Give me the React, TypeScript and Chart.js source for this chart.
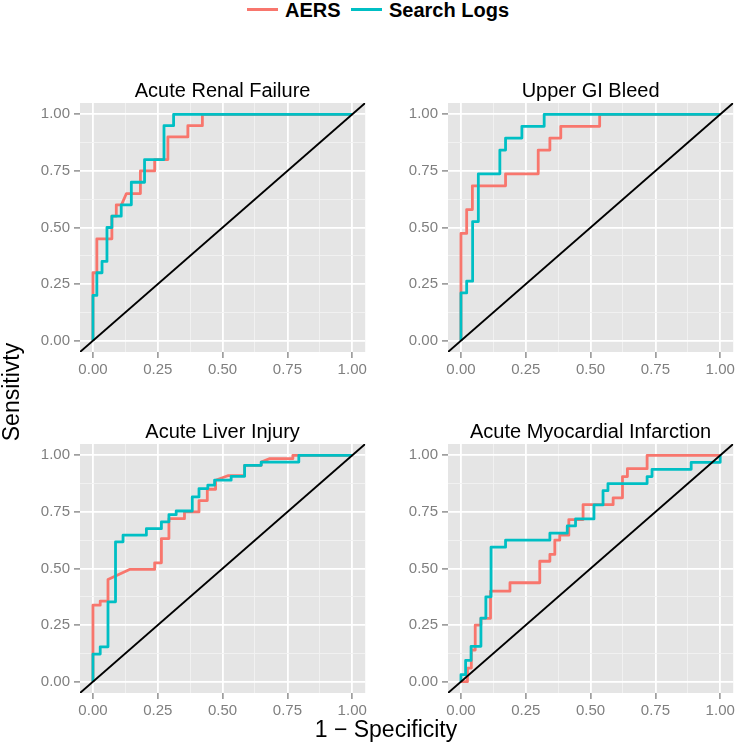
import React, { useEffect, useRef } from "react";
import { Chart, registerables } from "chart.js";

Chart.register(...registerables);

// ---------- data ----------
const seriesNames = ["AERS", "Search Logs"];
const seriesColors = ["#F8766D", "#00BFC4"];

const majorTicks = [0, 0.25, 0.5, 0.75, 1];
const minorTicks = [0.125, 0.375, 0.625, 0.875];
const tickLabels = ["0.00", "0.25", "0.50", "0.75", "1.00"];

const diagonal = [[-0.05, -0.05], [1.05, 1.05]];

const renalAers = [[0,0],[0,0.3],[0.015,0.3],[0.015,0.45],[0.073,0.45],[0.073,0.55],[0.09,0.55],[0.09,0.6],[0.11,0.6],[0.129,0.65],[0.183,0.65],[0.183,0.75],[0.238,0.75],[0.238,0.8],[0.289,0.8],[0.289,0.9],[0.366,0.9],[0.366,0.95],[0.422,0.95],[0.422,1],[1,1]];
const renalLogs = [[0,0],[0,0.2],[0.015,0.2],[0.015,0.3],[0.035,0.3],[0.035,0.35],[0.054,0.35],[0.054,0.5],[0.073,0.5],[0.073,0.55],[0.109,0.55],[0.109,0.6],[0.148,0.6],[0.148,0.7],[0.199,0.7],[0.199,0.8],[0.274,0.8],[0.274,0.95],[0.311,0.95],[0.311,1],[1,1]];

const giAers = [[0,0],[0,0.474],[0.022,0.474],[0.022,0.579],[0.044,0.579],[0.044,0.684],[0.172,0.684],[0.172,0.737],[0.298,0.737],[0.298,0.842],[0.343,0.842],[0.343,0.895],[0.385,0.895],[0.385,0.947],[0.535,0.947],[0.535,1],[1,1]];
const giLogs = [[0,0],[0,0.211],[0.022,0.211],[0.022,0.263],[0.045,0.263],[0.045,0.526],[0.067,0.526],[0.067,0.737],[0.15,0.737],[0.15,0.842],[0.172,0.842],[0.172,0.895],[0.235,0.895],[0.235,0.947],[0.321,0.947],[0.321,1],[1,1]];

const liverAers = [[0,0],[0,0.338],[0.028,0.338],[0.028,0.356],[0.058,0.356],[0.058,0.451],[0.141,0.496],[0.238,0.496],[0.238,0.525],[0.264,0.525],[0.264,0.632],[0.293,0.632],[0.293,0.72],[0.353,0.72],[0.353,0.75],[0.409,0.75],[0.409,0.8],[0.441,0.8],[0.441,0.85],[0.473,0.85],[0.473,0.89],[0.52,0.91],[0.585,0.91],[0.585,0.956],[0.649,0.956],[0.649,0.97],[0.68,0.985],[0.771,0.985],[0.771,1],[1,1]];
const liverLogs = [[0,0],[0,0.122],[0.028,0.122],[0.028,0.154],[0.058,0.154],[0.058,0.353],[0.087,0.353],[0.087,0.618],[0.116,0.618],[0.116,0.647],[0.206,0.647],[0.206,0.676],[0.264,0.676],[0.264,0.706],[0.293,0.706],[0.293,0.738],[0.321,0.738],[0.321,0.754],[0.383,0.754],[0.383,0.816],[0.409,0.816],[0.409,0.853],[0.443,0.853],[0.443,0.868],[0.469,0.868],[0.469,0.89],[0.533,0.89],[0.533,0.907],[0.585,0.907],[0.585,0.956],[0.649,0.956],[0.649,0.97],[0.794,0.97],[0.794,1],[1,1]];

const amiAers = [[0,0],[0.025,0],[0.025,0.06],[0.04,0.06],[0.04,0.14],[0.055,0.14],[0.055,0.25],[0.077,0.25],[0.077,0.28],[0.114,0.28],[0.114,0.4],[0.189,0.4],[0.189,0.437],[0.304,0.437],[0.304,0.532],[0.343,0.532],[0.343,0.562],[0.362,0.562],[0.362,0.625],[0.381,0.625],[0.381,0.647],[0.416,0.647],[0.416,0.716],[0.471,0.716],[0.471,0.782],[0.587,0.782],[0.587,0.812],[0.623,0.812],[0.623,0.906],[0.642,0.906],[0.642,0.941],[0.718,0.941],[0.718,1],[1,1]];
const amiLogs = [[0,0],[0,0.031],[0.018,0.031],[0.018,0.094],[0.039,0.094],[0.039,0.156],[0.077,0.156],[0.077,0.281],[0.096,0.281],[0.096,0.375],[0.116,0.375],[0.116,0.594],[0.172,0.594],[0.172,0.625],[0.343,0.625],[0.343,0.656],[0.41,0.656],[0.41,0.688],[0.442,0.688],[0.442,0.719],[0.513,0.719],[0.513,0.781],[0.548,0.781],[0.548,0.844],[0.567,0.844],[0.567,0.875],[0.718,0.875],[0.718,0.906],[0.737,0.906],[0.737,0.938],[0.888,0.938],[0.888,0.969],[1,0.969],[1,1]];

const panelTitles = ["Acute Renal Failure", "Upper GI Bleed", "Acute Liver Injury", "Acute Myocardial Infarction"];
const panelAers = [renalAers, giAers, liverAers, amiAers];
const panelLogs = [renalLogs, giLogs, liverLogs, amiLogs];

const xTitle = "1 \u2212 Specificity";
const yTitle = "Sensitivty";

// ---------- layout ----------
const FONT = '"Liberation Sans", Arial, Helvetica, sans-serif';
const Y_AXIS_W = 80;
const X_AXIS_H = 30;
const PAD_TOP = 34;
const PAD_RIGHT = 4;
const AREA_W = 286;
const AREA_H = 249;
const CANVAS_W = Y_AXIS_W + AREA_W + PAD_RIGHT;
const CANVAS_H = PAD_TOP + AREA_H + X_AXIS_H;
const panelPos = [
  { left: 0, top: 69 },
  { left: 368, top: 69 },
  { left: 0, top: 410 },
  { left: 368, top: 410 },
];

const allTicks = [...majorTicks, ...minorTicks].sort((a, b) => a - b);
const isMajor = (v: number) => majorTicks.some((m) => Math.abs(m - v) < 1e-9);
const toXY = (pts: number[][]) => pts.map(([x, y]) => ({ x, y }));

function axisOptions(isX: boolean) {
  return {
    type: "linear" as const,
    min: -0.05,
    max: 1.05,
    afterBuildTicks: (scale: any) => {
      scale.ticks = allTicks.map((v) => ({ value: v }));
    },
    afterFit: (scale: any) => {
      if (isX) scale.height = X_AXIS_H;
      else scale.width = Y_AXIS_W;
    },
    border: { display: false },
    grid: {
      drawOnChartArea: true,
      drawTicks: true,
      tickLength: 6,
      color: (ctx: any) => (ctx.tick && isMajor(ctx.tick.value) ? "#FFFFFF" : "#F2F2F2"),
      lineWidth: (ctx: any) => (ctx.tick && isMajor(ctx.tick.value) ? 1.8 : 0.9),
      tickColor: (ctx: any) => (ctx.tick && isMajor(ctx.tick.value) ? "#7F7F7F" : "rgba(0,0,0,0)"),
      tickWidth: 1.3,
    },
    ticks: {
      autoSkip: false,
      maxRotation: 0,
      minRotation: 0,
      padding: isX ? 3 : 4,
      color: "#7F7F7F",
      font: { family: FONT, size: 15 },
      callback: (value: any) => {
        const i = majorTicks.findIndex((m) => Math.abs(m - Number(value)) < 1e-9);
        return i >= 0 ? tickLabels[i] : "";
      },
    },
  };
}

function Panel({ index }: { index: number }) {
  const ref = useRef<HTMLCanvasElement>(null);
  useEffect(() => {
    if (!ref.current) return;
    const title = panelTitles[index];
    const panelPlugin = {
      id: "panelDeco",
      beforeDraw(chart: any) {
        const { ctx, chartArea } = chart;
        ctx.save();
        ctx.fillStyle = "#E5E5E5";
        ctx.fillRect(chartArea.left, chartArea.top, chartArea.right - chartArea.left, chartArea.bottom - chartArea.top);
        ctx.restore();
      },
      afterDraw(chart: any) {
        const { ctx, chartArea } = chart;
        ctx.save();
        ctx.font = `20px ${FONT}`;
        ctx.fillStyle = "#000000";
        ctx.textAlign = "center";
        ctx.textBaseline = "alphabetic";
        ctx.fillText(title, (chartArea.left + chartArea.right) / 2, chartArea.top - 6);
        ctx.restore();
      },
    };
    const chart = new Chart(ref.current, {
      type: "scatter",
      data: {
        datasets: [
          {
            label: "diagonal",
            data: toXY(diagonal),
            showLine: true,
            borderColor: "#000000",
            borderWidth: 1.9,
            pointRadius: 0,
            pointHoverRadius: 0,
            order: 0,
          },
          {
            label: seriesNames[1],
            data: toXY(panelLogs[index]),
            showLine: true,
            borderColor: seriesColors[1],
            borderWidth: 2.8,
            pointRadius: 0,
            pointHoverRadius: 0,
            borderJoinStyle: "round",
            order: 1,
          },
          {
            label: seriesNames[0],
            data: toXY(panelAers[index]),
            showLine: true,
            borderColor: seriesColors[0],
            borderWidth: 2.8,
            pointRadius: 0,
            pointHoverRadius: 0,
            borderJoinStyle: "round",
            order: 2,
          },
        ],
      },
      options: {
        responsive: false,
        maintainAspectRatio: false,
        animation: false,
        devicePixelRatio: 1,
        layout: { padding: { top: PAD_TOP, right: PAD_RIGHT, left: 0, bottom: 0 } },
        plugins: {
          legend: { display: false },
          tooltip: { enabled: false },
          title: { display: false },
        },
        events: [],
        scales: {
          x: axisOptions(true) as any,
          y: axisOptions(false) as any,
        },
      },
      plugins: [panelPlugin],
    });
    return () => chart.destroy();
  }, [index]);
  const pos = panelPos[index];
  return (
    <canvas
      ref={ref}
      width={CANVAS_W}
      height={CANVAS_H}
      style={{ position: "absolute", left: pos.left, top: pos.top, width: CANVAS_W, height: CANVAS_H }}
    />
  );
}

export default function App() {
  return (
    <div style={{ position: "absolute", left: 0, top: 0, width: 739, height: 750, background: "#FFFFFF", fontFamily: FONT }}>
      {/* legend */}
      <div style={{ position: "absolute", left: 247, top: 8, width: 31, height: 3, background: seriesColors[0] }} />
      <div style={{ position: "absolute", left: 285, top: 0, fontSize: 20, lineHeight: "20px", fontWeight: "bold", color: "#000", whiteSpace: "nowrap" }}>
        {seriesNames[0]}
      </div>
      <div style={{ position: "absolute", left: 351, top: 8, width: 31, height: 3, background: seriesColors[1] }} />
      <div style={{ position: "absolute", left: 389, top: 0, fontSize: 20, lineHeight: "20px", fontWeight: "bold", color: "#000", whiteSpace: "nowrap" }}>
        {seriesNames[1]}
      </div>

      {[0, 1, 2, 3].map((i) => (
        <Panel key={i} index={i} />
      ))}

      {/* axis titles */}
      <div style={{ position: "absolute", left: 236, top: 714, width: 300, height: 30, lineHeight: "30px", fontSize: 23, textAlign: "center", color: "#000", whiteSpace: "nowrap" }}>
        {xTitle}
      </div>
      <div
        style={{
          position: "absolute",
          left: 11 - 100,
          top: 392 - 15,
          width: 200,
          height: 30,
          lineHeight: "30px",
          fontSize: 23,
          textAlign: "center",
          color: "#000",
          whiteSpace: "nowrap",
          transform: "rotate(-90deg)",
        }}
      >
        {yTitle}
      </div>
    </div>
  );
}
